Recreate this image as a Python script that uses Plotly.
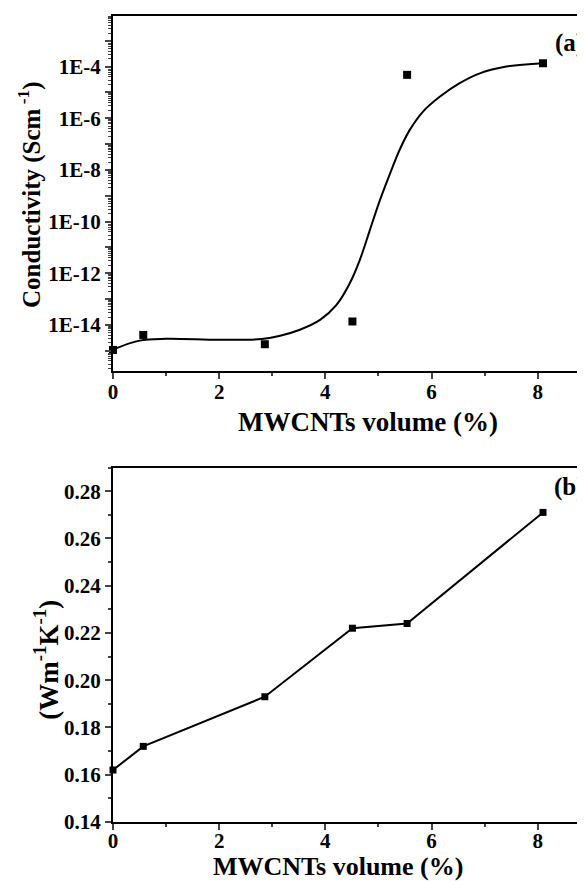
import plotly.graph_objects as go

# ---- data ----
mwcnt_volume = [0, 0.57, 2.86, 4.51, 5.54, 8.10]
conductivity = [1.07e-15, 4.07e-15, 1.78e-15, 1.35e-14, 4.79e-5, 1.35e-4]
thermal_k = [0.162, 0.172, 0.193, 0.222, 0.224, 0.271]

# fitted curve (panel a), control points
fit_x = [0, 0.5, 1.0, 2.0, 2.8, 3.15, 3.52, 3.90, 4.21, 4.46, 4.65, 4.84, 5.03,
         5.22, 5.40, 5.59, 5.84, 6.16, 6.53, 6.91, 7.41, 8.10]
fit_y = [1.10e-15, 2.45e-15, 2.88e-15, 2.63e-15, 2.82e-15, 3.80e-15, 6.46e-15,
         1.55e-14, 5.89e-14, 4.07e-13, 3.31e-12, 4.79e-11, 6.92e-10, 7.41e-9,
         6.03e-8, 3.55e-7, 1.82e-6, 6.92e-6, 2.29e-5, 5.50e-5, 1.00e-4, 1.35e-4]

log_major_exp = list(range(-15, -2))
log_labels = [("1E%d" % e) if e % 2 == 0 else "" for e in log_major_exp]
x_ticks = [0, 2, 4, 6, 8]

FONT = "Liberation Serif, Times New Roman, serif"
OFF = 8                      # default page body margin
W, H = 585 - OFF, 881 - OFF
ML, MR, MT, MB = 113 - OFF, 0, 16 - OFF, 58.7

fig = go.Figure()

fig.add_trace(go.Scatter(x=fit_x, y=fit_y, mode="lines",
                         line=dict(color="black", width=2, shape="spline", smoothing=1.0),
                         xaxis="x", yaxis="y", showlegend=False, hoverinfo="skip"))
fig.add_trace(go.Scatter(x=mwcnt_volume, y=conductivity, mode="markers",
                         marker=dict(symbol="square", size=8, color="black"),
                         xaxis="x", yaxis="y", showlegend=False, cliponaxis=False))
fig.add_trace(go.Scatter(x=mwcnt_volume, y=thermal_k, mode="lines+markers",
                         line=dict(color="black", width=2),
                         marker=dict(symbol="square", size=7, color="black"),
                         xaxis="x2", yaxis="y2", showlegend=False, cliponaxis=False))

tickfont = dict(family=FONT, size=21, color="black", weight="bold")

xcommon = dict(range=[0, 8.891], tickvals=x_ticks, ticktext=[str(v) for v in x_ticks],
               ticks="outside", ticklen=6, tickwidth=2, linecolor="black", linewidth=2,
               showgrid=False, zeroline=False, mirror=True, tickfont=tickfont,
               minor=dict(ticks="outside", ticklen=3, tickwidth=2, dtick=1, tick0=1, showgrid=False))

minor_log = [m * 10.0 ** e for e in range(-16, -1) for m in range(2, 10)]

fig.update_layout(
    width=W, height=H,
    margin=dict(l=ML, r=MR, t=MT, b=MB),
    paper_bgcolor="white", plot_bgcolor="white",
    xaxis=dict(domain=[0, 1], anchor="y", ticklabelstandoff=-5, **xcommon),
    yaxis=dict(domain=[0.5601, 1], anchor="x", type="log", range=[-15.77, -2.04],
               tickmode="array", tickvals=[10.0 ** e for e in log_major_exp], ticktext=log_labels,
               ticks="outside", ticklen=6, tickwidth=2, linecolor="black", linewidth=2,
               showgrid=False, zeroline=False, tickfont=tickfont,
               minor=dict(tickmode="array", tickvals=minor_log, ticks="outside", ticklen=3,
                          tickwidth=1, showgrid=False)),
    xaxis2=dict(domain=[0, 1], anchor="y2", ticklabelstandoff=-7, **xcommon),
    yaxis2=dict(domain=[0, 0.4398], anchor="x2", range=[0.14, 0.29], dtick=0.02, tick0=0.14,
                tickformat=".2f", ticks="outside", ticklen=6, tickwidth=2, linecolor="black",
                linewidth=2, showgrid=False, zeroline=False, tickfont=tickfont,
                minor=dict(ticks="outside", ticklen=3, tickwidth=2, dtick=0.01, showgrid=False)),
)

tfont = dict(family=FONT, size=27, color="black", weight="bold")
# positions given in reference-image pixels
ann = [
    dict(text="MWCNTs volume (%)", x=368, y=421.7),
    dict(text="MWCNTs volume (%)", x=338, y=867, size=26),
    dict(text="Conductivity (Scm<sup> -1</sup>)", x=30, y=195, textangle=-90, size=25),
    dict(text="(Wm<sup>-1</sup>K<sup>-1</sup>)", x=46, y=660, textangle=-90),
    dict(text="(a)", x=569, y=43, size=25),
    dict(text="(b)", x=569, y=487, size=25),
]
pw = W - ML - MR
ph = H - MT - MB
for a in ann:
    f = dict(tfont)
    if "size" in a:
        f["size"] = a.pop("size")
    fig.add_annotation(text=a["text"], x=(a["x"] - OFF - ML) / pw, y=1 - (a["y"] - OFF - MT) / ph,
                       xref="paper", yref="paper",
                       xanchor="center", yanchor="middle", showarrow=False, font=f,
                       textangle=a.get("textangle", 0))

fig.write_html("out.html")
